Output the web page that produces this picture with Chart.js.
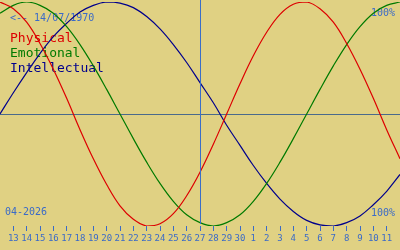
<!DOCTYPE html>
<html>
<head>
<meta charset="utf-8">
<script src="https://cdn.jsdelivr.net/npm/chart.js@4/dist/chart.umd.min.js"></script>
<style>
  html, body { margin: 0; padding: 0; background: #e0d183; }
  #bio { display: block; }
</style>
</head>
<body>
<canvas id="bio" width="400" height="250"></canvas>
<script>
// Dias mostrados (12/04 -> 12/05), el 27 es hoy
const dayLabels = ['12', '13', '14', '15', '16', '17', '18', '19', '20', '21', '22', '23', '24', '25', '26',
    '27', '28', '29', '30', '1', '2', '3', '4', '5', '6', '7', '8', '9', '10', '11', '12'];
const todayIndex = 15;

// Valores (-1 .. 1)
const physical = [1.00, 0.94, 0.82, 0.63, 0.40, 0.14, -0.14, -0.40, -0.63, -0.82, -0.94, -1.00, -0.98, -0.89, -0.73,
    -0.52, -0.27, 0.00, 0.27, 0.52, 0.73, 0.89, 0.98, 1.00, 0.94, 0.82, 0.63, 0.40, 0.14, -0.14, -0.40];
const emotional = [0.90, 0.97, 1.00, 0.97, 0.90, 0.78, 0.62, 0.43, 0.22, 0.00, -0.22, -0.43, -0.62, -0.78, -0.90,
    -0.97, -1.00, -0.97, -0.90, -0.78, -0.62, -0.43, -0.22, 0.00, 0.22, 0.43, 0.62, 0.78, 0.90, 0.97, 1.00];
const intellectual = [0.00, 0.19, 0.37, 0.54, 0.69, 0.81, 0.91, 0.97, 1.00, 0.99, 0.95, 0.87, 0.76, 0.62, 0.46,
    0.28, 0.10, -0.10, -0.28, -0.46, -0.62, -0.76, -0.87, -0.95, -0.99, -1.00, -0.97, -0.91, -0.81, -0.69, -0.54];

const colors = {
    bg: '#e0d183',
    text: '#3a6ac8',
    physical: '#dd0000',
    emotional: '#007a00',
    intellectual: '#00008c',
    zero: '#4a6a8c',
    today: '#3a6ec8'
};
const mono = '"DejaVu Sans Mono", "Liberation Mono", monospace';

// Fondo, lineas de referencia y textos
const bioPlugin = {
    id: 'bioPlugin',
    beforeDraw(chart) {
        const { ctx, width, height } = chart;
        ctx.save();
        ctx.fillStyle = colors.bg;
        ctx.fillRect(0, 0, width, height);
        ctx.restore();
    },
    beforeDatasetsDraw(chart) {
        const { ctx, chartArea, scales } = chart;
        const y0 = Math.round(scales.y.getPixelForValue(0)) + 0.5;
        ctx.save();
        ctx.strokeStyle = colors.zero;
        ctx.lineWidth = 1;
        ctx.beginPath();
        ctx.moveTo(chartArea.left, y0);
        ctx.lineTo(chartArea.right, y0);
        ctx.stroke();

        ctx.textBaseline = 'alphabetic';
        ctx.fillStyle = colors.text;
        ctx.font = '10px ' + mono;
        ctx.textAlign = 'left';
        ctx.fillText('<-- 14/07/1970', 10, 21);
        ctx.fillText('04-2026', 5, 215);
        ctx.textAlign = 'right';
        ctx.fillText('100%', 395, 16);
        ctx.fillText('100%', 395, 216);

        ctx.textAlign = 'left';
        ctx.font = '13px ' + mono;
        ctx.fillStyle = colors.physical;
        ctx.fillText('Physical', 10, 42);
        ctx.fillStyle = colors.emotional;
        ctx.fillText('Emotional', 10, 57);
        ctx.fillStyle = colors.intellectual;
        ctx.fillText('Intellectual', 10, 72);
        ctx.restore();
    },
    afterDatasetsDraw(chart) {
        const { ctx, chartArea, scales } = chart;
        const xt = Math.round(scales.x.getPixelForValue(todayIndex)) + 0.5;
        ctx.save();
        ctx.strokeStyle = colors.today;
        ctx.lineWidth = 1;
        ctx.beginPath();
        ctx.moveTo(xt, 0);
        ctx.lineTo(xt, chartArea.bottom - 2);
        ctx.stroke();
        ctx.restore();
    }
};

const lineSet = (label, data, color) => ({
    label,
    data,
    borderColor: color,
    borderWidth: 1.2,
    pointRadius: 0,
    tension: 0.4,
    fill: false
});

new Chart(document.getElementById('bio'), {
    type: 'line',
    data: {
        labels: dayLabels,
        datasets: [
            lineSet('Physical', physical, colors.physical),
            lineSet('Emotional', emotional, colors.emotional),
            lineSet('Intellectual', intellectual, colors.intellectual)
        ]
    },
    options: {
        responsive: false,
        devicePixelRatio: 1,
        animation: false,
        layout: { padding: { top: 2, left: 0, right: 0, bottom: 0 } },
        plugins: { legend: { display: false }, tooltip: { enabled: false } },
        scales: {
            x: {
                offset: false,
                afterFit: (scale) => { scale.height = 24; },
                border: { display: false },
                grid: {
                    drawOnChartArea: false,
                    drawTicks: true,
                    tickLength: 5,
                    color: colors.text,
                    lineWidth: 1
                },
                ticks: {
                    autoSkip: false,
                    maxRotation: 0,
                    padding: 2,
                    color: colors.text,
                    font: { family: mono, size: 9 },
                    callback: function (val, i) {
                        if (i === 0 || i === dayLabels.length - 1) return null;
                        return this.getLabelForValue(val);
                    }
                }
            },
            y: {
                display: false,
                min: -1,
                max: 1
            }
        }
    },
    plugins: [bioPlugin]
});
</script>
</body>
</html>
